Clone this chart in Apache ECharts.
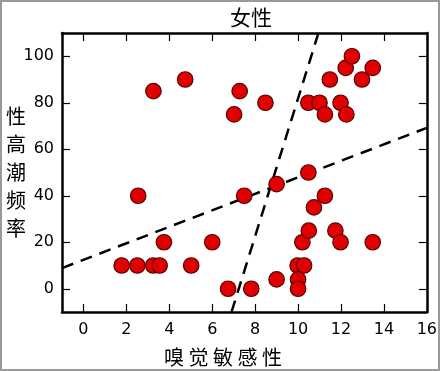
<!DOCTYPE html>
<html>
<head>
<meta charset="utf-8">
<script src="https://cdn.jsdelivr.net/npm/echarts@6/dist/echarts.min.js"></script>
<style>
html,body{margin:0;padding:0;background:#fff;}
#wrap{position:relative;width:440px;height:371px;box-sizing:border-box;border:2px solid #9a9a9a;overflow:hidden;}
#chart{position:absolute;left:-2px;top:-2px;width:440px;height:371px;}
</style>
</head>
<body>
<div id="wrap"><div id="chart"></div></div>
<script>
// Data
const xValues = [1.78, 2.51, 3.25, 3.55, 3.75, 2.55, 3.26, 4.74, 5.02, 6.0,
                 6.74, 7.02, 7.28, 7.49, 7.82, 8.48, 9.0, 9.0, 9.98, 10.28,
                 10.0, 10.0, 10.2, 10.5, 10.48, 10.74, 11.25, 10.48, 11.0, 11.25,
                 11.48, 11.74, 11.98, 11.98, 12.25, 12.22, 12.51, 12.98, 13.48, 13.48];
const yValues = [10, 10, 10, 10, 20, 40, 85, 90, 10, 20,
                 0, 75, 85, 40, 0, 80, 45, 4, 10, 10,
                 4, 0, 20, 25, 50, 35, 40, 80, 80, 75,
                 90, 25, 20, 80, 75, 95, 100, 90, 95, 20];
const shallowLine = [[-1, 8.9], [16, 69.2]];
const steepLine = [[6.9, -10], [10.95, 110]];
const xTicks = [0, 2, 4, 6, 8, 10, 12, 14, 16];
const yTicks = [0, 20, 40, 60, 80, 100];
const titleText = '女性';
const xName = '嗅 觉 敏 感 性';
const yName = ['性', '高', '潮', '频', '率'];

const points = xValues.map((x, i) => [x, yValues[i]]);
const tickFont = 'DejaVu Sans';
const cjk = '"Noto Sans CJK SC", "Noto Sans CJK JP", sans-serif';

function xAx(pos, show) {
  return {
    type: 'value', min: -1, max: 16, position: pos,
    axisLine: {show: true, onZero: false, lineStyle: {color: '#000', width: 2.5}},
    axisTick: {show: true, inside: true, length: 8, customValues: xTicks, lineStyle: {color: '#000', width: 1.2}},
    axisLabel: {show: show, customValues: xTicks, margin: 10, color: '#000', fontSize: 16, fontFamily: tickFont},
    splitLine: {show: false}
  };
}
function yAx(pos, show) {
  return {
    type: 'value', min: -10, max: 110, position: pos,
    axisLine: {show: true, onZero: false, lineStyle: {color: '#000', width: 2.5}},
    axisTick: {show: true, inside: true, length: 8, customValues: yTicks, lineStyle: {color: '#000', width: 1.2}},
    axisLabel: {show: show, customValues: yTicks, margin: 8, color: '#000', fontSize: 16, fontFamily: tickFont},
    splitLine: {show: false}
  };
}

const chart = echarts.init(document.getElementById('chart'), null, {renderer: 'canvas'});
chart.setOption({
  animation: false,
  backgroundColor: '#fff',
  grid: {left: 62, right: 11, top: 33, bottom: 59},
  xAxis: [xAx('bottom', true), xAx('top', false)],
  yAxis: [yAx('left', true), yAx('right', false)],
  graphic: [
    {type: 'text', style: {text: titleText, x: 251, y: 17, font: '21px ' + cjk, fill: '#000', textAlign: 'center', textVerticalAlign: 'middle'}},
    {type: 'text', style: {text: xName, x: 223, y: 357, font: '20px ' + cjk, fill: '#000', textAlign: 'center', textVerticalAlign: 'middle'}},
    ...yName.map((c, i) => ({type: 'text', style: {text: c, x: 16, y: 116 + i * 28, font: '20px ' + cjk, fill: '#000', textAlign: 'center', textVerticalAlign: 'middle'}}))
  ],
  series: [
    {
      type: 'line', data: shallowLine, symbol: 'none', silent: true, z: 3,
      lineStyle: {color: '#000', width: 2.5, type: [12, 8]}
    },
    {
      type: 'line', data: steepLine, symbol: 'none', silent: true, z: 3,
      lineStyle: {color: '#000', width: 2.5, type: [12, 8]}
    },
    {
      type: 'scatter', data: points, symbol: 'circle', symbolSize: 15.5, z: 4,
      itemStyle: {color: '#e00000', borderColor: '#5a0000', borderWidth: 1.2, opacity: 1}
    }
  ]
});
</script>
</body>
</html>
